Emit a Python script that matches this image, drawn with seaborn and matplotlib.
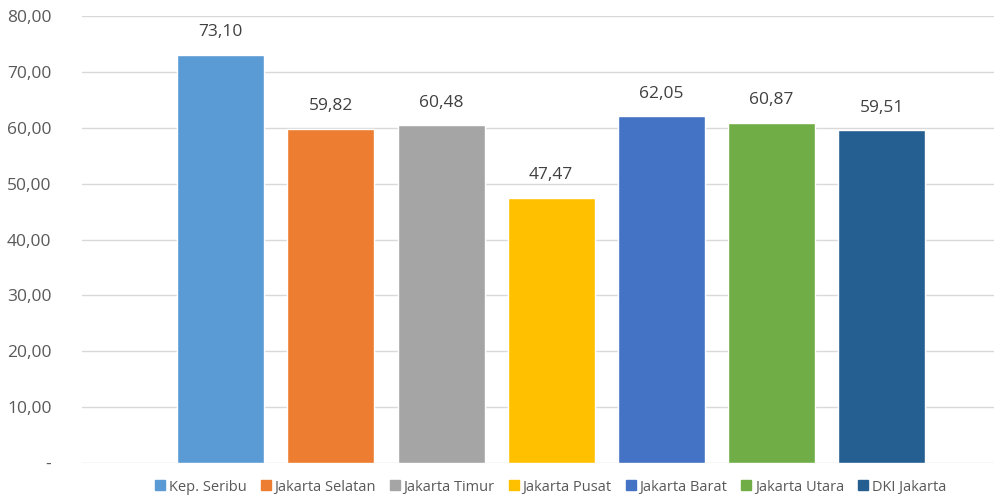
import matplotlib
matplotlib.use("Agg")
import matplotlib.pyplot as plt
from matplotlib.lines import Line2D
import pandas as pd
import seaborn as sns

wilayah = ["Kep. Seribu", "Jakarta Selatan", "Jakarta Timur", "Jakarta Pusat",
           "Jakarta Barat", "Jakarta Utara", "DKI Jakarta"]
nilai = [73.10, 59.82, 60.48, 47.47, 62.05, 60.87, 59.51]
warna = ["#5B9BD5", "#ED7D31", "#A5A5A5", "#FFC000", "#4472C4", "#70AD47", "#255E91"]
yticks = [0, 10, 20, 30, 40, 50, 60, 70, 80]

df = pd.DataFrame({"wilayah": wilayah, "nilai": nilai})

sns.set_style("white")
plt.rcParams["font.family"] = ["Open Sans", "DejaVu Sans"]

fig = plt.figure(figsize=(9.95, 4.98), dpi=100)
ax = fig.add_axes([82 / 995, 1 - 463 / 498, 1 - 82 / 995, (463 - 16) / 498])

sns.barplot(data=df, x="wilayah", y="nilai", hue="wilayah", palette=warna,
            saturation=1, width=0.79, legend=False, ax=ax, zorder=3)

for i, v in enumerate(nilai):
    ax.text(i, v + 2.6, f"{v:.2f}".replace(".", ","), ha="center", va="bottom",
            fontsize=12.5, color="#404040")

ax.set_ylim(0, 80)
ax.set_xlim(-1.26, 7.03)
ax.set_yticks(yticks)
ax.set_yticklabels(["-" if t == 0 else f"{t:.2f}".replace(".", ",") for t in yticks],
                   fontsize=12.5, color="#595959")
ax.set_xticks([])
ax.set_xlabel("")
ax.set_ylabel("")
ax.grid(axis="y", color="#D9D9D9", linewidth=1, zorder=0)
ax.tick_params(axis="y", length=0, pad=22)
for s in ax.spines.values():
    s.set_visible(False)

handles = [Line2D([], [], marker="s", linestyle="", color=c, markersize=7) for c in warna]
fig.legend(handles, wilayah, loc="center", bbox_to_anchor=(551 / 995, 1 - 487 / 498),
           ncol=7, frameon=False, fontsize=10.5, handlelength=0.6, handletextpad=0.3,
           columnspacing=1.0, labelcolor="#595959")

fig.savefig("out.png", dpi=100)
